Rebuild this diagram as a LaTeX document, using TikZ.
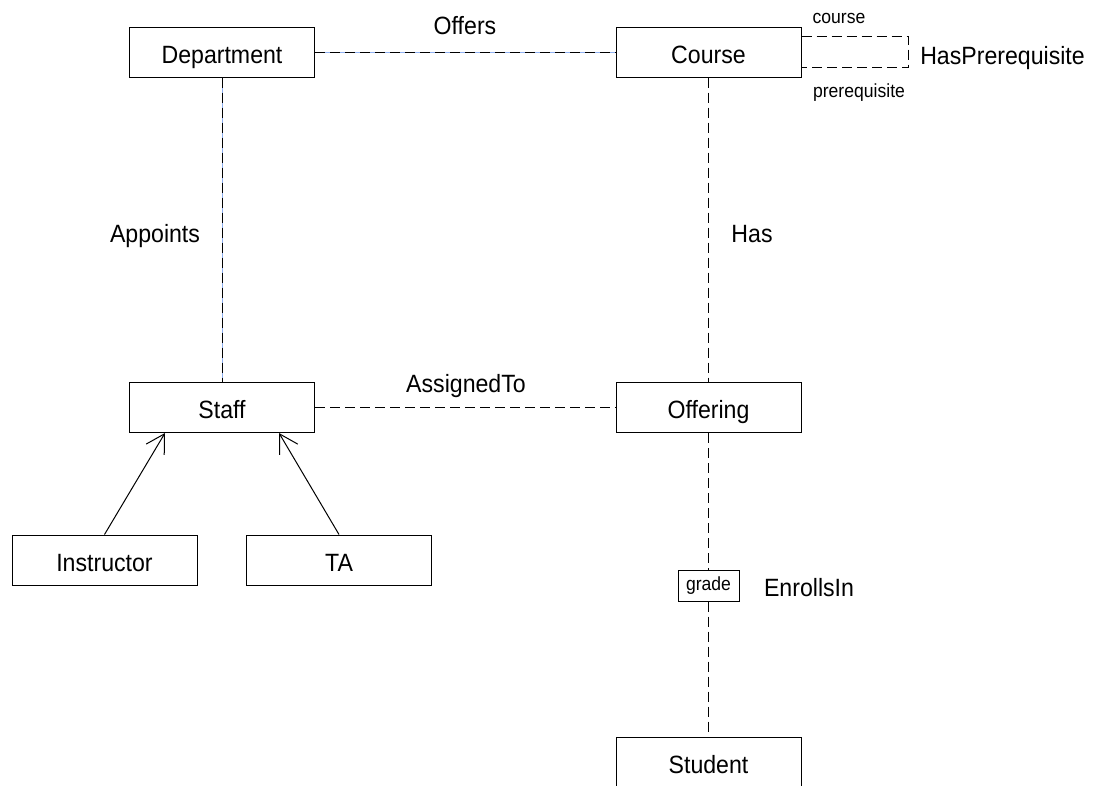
\documentclass[tikz,border=0pt]{standalone}
\usepackage{fontspec}
\setmainfont{Liberation Sans}[FakeStretch=0.925]
\usetikzlibrary{arrows.meta,calc}
\definecolor{dashblue}{HTML}{8FB0F0}
\begin{document}
\begin{tikzpicture}[x=0.75pt,y=-0.75pt,
  cls/.style={draw, line width=0.75pt, minimum width=138.75pt, minimum height=37.5pt, text height=16.5pt, text depth=0pt, inner sep=0pt, font=\fontsize{18.75}{22}\selectfont},
  lbl/.style={anchor=base, inner sep=0pt, font=\fontsize{18.75}{22}\selectfont},
  sml/.style={anchor=base, inner sep=0pt, font=\fontsize{14.25}{17}\selectfont},
  attr/.style={draw, fill=white, line width=0.75pt, minimum width=45.75pt, minimum height=23.25pt, inner sep=0pt, font=\fontsize{14.25}{17}\selectfont},
  assoc/.style={line width=0.75pt, dash pattern=on 7.5pt off 3.75pt},
  bluebg/.style={line width=0.75pt, dashblue},
  gen/.style={line width=0.75pt, -{Straight Barb[length=13.6pt,width=15.75pt]}}
]
\useasboundingbox (0,0) rectangle (1095,785);
\fill[white] (0,0) rectangle (1095,785);

\node[cls] (dept) at (222,52) {Department};
\node[cls] (course) at (708.5,52) {Course};
\node[cls] (staff) at (222,407.5) {Staff};
\node[cls] (offering) at (708.5,407.5) {Offering};
\node[cls] (instr) at (104.5,560) {Instructor};
\node[cls] (ta) at (339,560) {TA};
\node[cls] (student) at (708.5,762) {Student};
\node[attr] (grade) at (708.5,585.5) {grade};

% Offers
\draw[bluebg] (dept.east) -- (course.west);
\draw[assoc] (dept.east) -- (course.west);
% Appoints
\draw[bluebg] (dept.south) -- (staff.north);
\draw[assoc] (dept.south) -- (staff.north);
% Has
\draw[assoc] (course.south) -- (offering.north);
% AssignedTo
\draw[assoc] (staff.east) -- (offering.west);
% EnrollsIn
\draw[assoc] (offering.south) -- (grade.north);
\draw[assoc] (grade.south) -- (student.north);
% HasPrerequisite
\coordinate (cu) at ([yshift=-7.5pt]course.north east);
\coordinate (cl) at ([yshift=7.5pt]course.south east);
\draw[assoc] (cu) -- ++(107,0) |- (cl);
% generalisation
\draw[gen] (instr.north) -- ([xshift=-42.75pt]staff.south);
\draw[gen] (ta.north) -- ([xshift=42.75pt]staff.south);

% labels
\node[lbl] (loffers) at (465,34) {Offers};
\node[lbl] (lappoints) at (155,242) {Appoints};
\node[lbl] (lhas) at (752,242) {Has};
\node[lbl] (lassigned) at (466,392) {AssignedTo};
\node[lbl] (lenrolls) at (809,596) {EnrollsIn};
\node[lbl, anchor=base west] (lhasp) at (920,64) {HasPrerequisite};
\node[sml] (lcourse) at (839,23) {course};
\node[sml] (lprereq) at (859,97) {prerequisite};
\end{tikzpicture}
\end{document}
